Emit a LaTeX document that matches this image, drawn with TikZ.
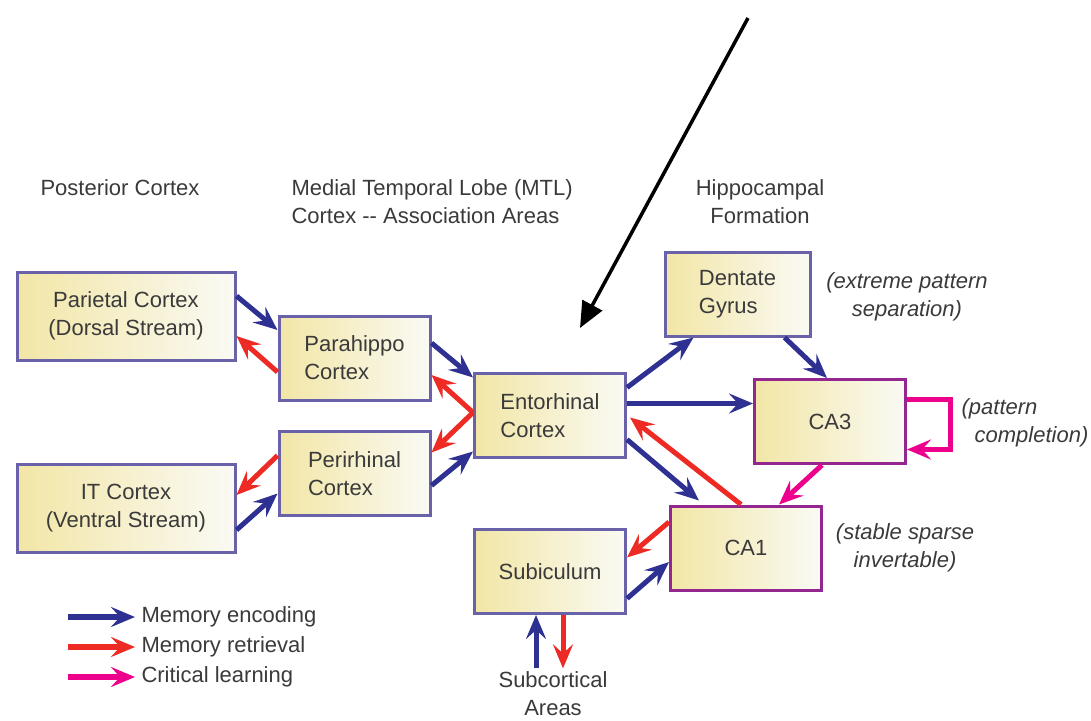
\documentclass[tikz,border=0pt]{standalone}
\usepackage{fontspec}
\setmainfont{Liberation Sans}
\usetikzlibrary{arrows.meta,calc,positioning}
\definecolor{encblue}{HTML}{2E3192}
\definecolor{retred}{HTML}{EE2A24}
\definecolor{learnpink}{HTML}{EC008C}
\definecolor{boxedge}{HTML}{6A62A8}
\definecolor{caedge}{HTML}{93278F}
\definecolor{boxleft}{HTML}{F2E6A6}
\definecolor{boxright}{HTML}{FAFAF4}
\definecolor{textgray}{HTML}{3A3A3A}
\tikzset{
    block/.style = {draw=boxedge, line width=3pt, rectangle,
        left color=boxleft, right color=boxright,
        minimum height=84pt, minimum width=151pt,
        align=left, text=textgray},
    wideblock/.style = {block, minimum width=218pt, minimum height=88pt, align=center},
    cablock/.style = {block, draw=caedge, align=center},
    enc/.style = {draw=encblue, line width=5pt, -{Stealth[length=24pt,width=20pt,inset=9pt]}},
    ret/.style = {enc, draw=retred},
    learn/.style = {enc, draw=learnpink},
    legenc/.style = {enc, line width=6.5pt},
    label/.style = {text=textgray, align=center},
    note/.style = {label, font=\fontsize{22}{28}\selectfont\itshape},
    pointer/.style = {draw=black, line width=3.5pt, -{Triangle[length=26pt,width=22pt]}}
}

\begin{document}
\begin{tikzpicture}[x=1pt, y=-1pt, font=\fontsize{22}{28}\selectfont]
    \useasboundingbox (0,0) rectangle (1091,720);
    \node [label] (posterior) at (120,188) {Posterior Cortex};
    \node [label, align=left, anchor=west] (mtl) at (288,202) {Medial Temporal Lobe (MTL)\\Cortex -{}- Association Areas};
    \node [label] (hippocampal) at (760,202) {Hippocampal\\Formation};
    \node [wideblock] (parietal) at (126,316) {Parietal Cortex\\(Dorsal Stream)};
    \node [wideblock] (itcortex) at (126,508) {IT Cortex\\(Ventral Stream)};
    \node [block] (parahippo) at (354.5,358) {Parahippo\\Cortex};
    \node [block] (perirhinal) at (354.5,473.5) {Perirhinal\\Cortex};
    \node [block] (entorhinal) at (550,415.5) {Entorhinal\\Cortex};
    \node [block, minimum width=145pt] (dentate) at (737.5,294) {Dentate\\Gyrus};
    \node [cablock] (ca3) at (830,421.5) {CA3};
    \node [cablock] (ca1) at (746,548) {CA1};
    \node [block, align=center] (subiculum) at (550,571.5) {Subiculum};
    \node [label] (subcortical) at (553,694) {Subcortical\\Areas};
    \node [note] (sepnote) at (907,297) {(extreme pattern\\separation)};
    \node [note, align=left] (compnote) at (1025,423) {(pattern\\\hspace*{13pt}completion)};
    \node [note] (sparsenote) at (905,548) {(stable sparse\\invertable)};
    \coordinate (ptrstart) at (748,18);
    \draw [pointer] (ptrstart) -- ($(entorhinal.north)+(30,-44)$);
    \draw [enc] ($(parietal.east)+(0,-20)$) -- ($(parahippo.west)+(0,-28)$);
    \draw [ret] ($(parahippo.west)+(0,14)$) -- ($(parietal.east)+(0,20)$);
    \draw [ret] ($(perirhinal.west)+(0,-18)$) -- ($(itcortex.east)+(0,-13)$);
    \draw [enc] ($(itcortex.east)+(0,22)$) -- ($(perirhinal.west)+(0,20)$);
    \draw [enc] ($(parahippo.east)+(0,-15)$) -- ($(entorhinal.west)+(0,-38)$);
    \draw [ret] ($(entorhinal.west)+(0,-3)$) -- ($(parahippo.east)+(0,17)$);
    \draw [ret] ($(entorhinal.west)+(0,-3)$) -- ($(perirhinal.east)+(0,-21)$);
    \draw [enc] ($(perirhinal.east)+(0,12)$) -- ($(entorhinal.west)+(0,36)$);
    \draw [enc] ($(entorhinal.east)+(0,-28)$) -- ($(dentate.south west)+(30,0)$);
    \draw [enc] ($(entorhinal.east)+(0,-12)$) -- ($(ca3.west)+(0,-18)$);
    \draw [enc] ($(entorhinal.east)+(0,24)$) -- ($(ca1.north west)+(30,-4)$);
    \draw [ret] ($(ca1.north)+(-5,0)$) -- ($(entorhinal.east)+(3,2)$);
    \draw [enc] ($(dentate.south)+(47,0)$) -- ($(ca3.north)+(-3,0)$);
    \draw [learn] ($(ca3.south)+(-8,0)$) -- ($(ca1.north)+(33,0)$);
    \draw [learn] ($(ca3.east)+(0,-22)$) -| ++(43,50) -- ($(ca3.east)+(0,28)$);
    \draw [ret] ($(ca1.west)+(0,-26)$) -- ($(subiculum.east)+(0,-14)$);
    \draw [enc] ($(subiculum.east)+(0,27)$) -- ($(ca1.west)+(0,14)$);
    \draw [enc] ($(subcortical.north)+(-17,0)$) -- ($(subiculum.south)+(-14,0)$);
    \draw [ret] ($(subiculum.south)+(13,0)$) -- ($(subcortical.north)+(10,0)$);
    \node [label, anchor=west] (encleg) at (138,617) {Memory encoding};
    \node [label, anchor=west] (retleg) at (138,647) {Memory retrieval};
    \node [label, anchor=west] (learnleg) at (138,677) {Critical learning};
    \draw [legenc] ($(encleg.west)+(-70,0)$) -- ($(encleg.west)+(-3,0)$);
    \draw [legenc, draw=retred] ($(retleg.west)+(-70,0)$) -- ($(retleg.west)+(-3,0)$);
    \draw [legenc, draw=learnpink] ($(learnleg.west)+(-70,0)$) -- ($(learnleg.west)+(-3,0)$);
\end{tikzpicture}
\end{document}
